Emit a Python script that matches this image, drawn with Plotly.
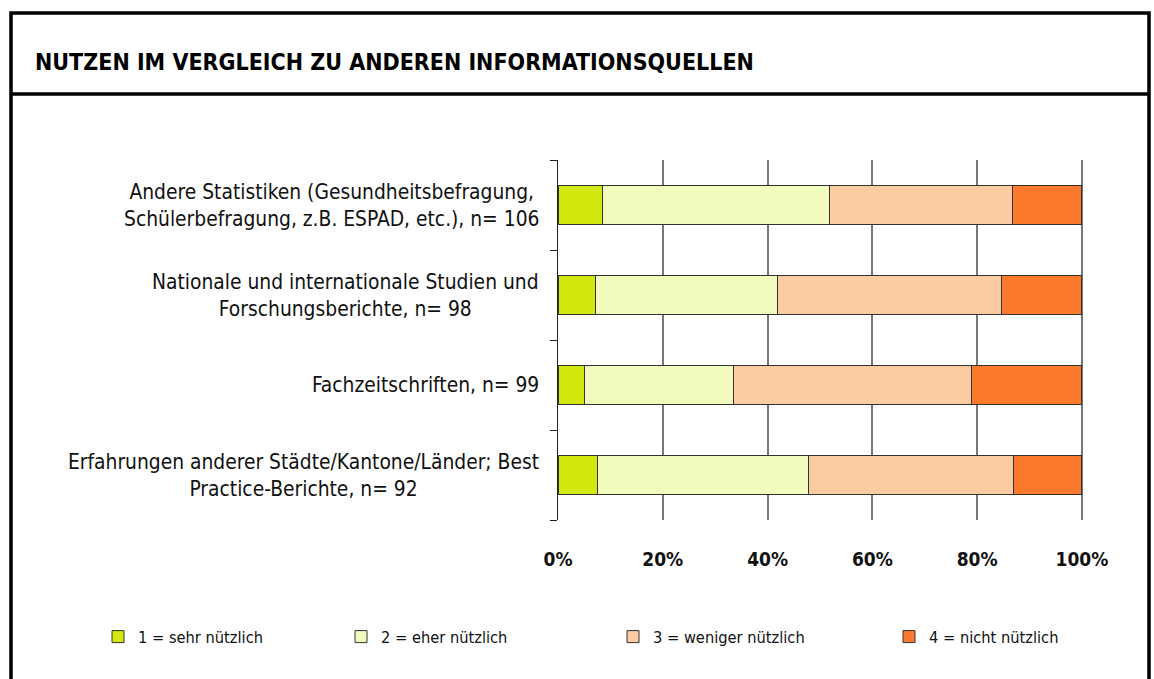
import plotly.graph_objects as go

categories = [
    "Andere Statistiken (Gesundheitsbefragung,<br>Schülerbefragung, z.B. ESPAD, etc.), n= 106",
    "Nationale und internationale Studien und<br>Forschungsberichte, n= 98",
    "Fachzeitschriften, n= 99",
    "Erfahrungen anderer Städte/Kantone/Länder; Best<br>Practice-Berichte, n= 92",
]
series_names = ["1 = sehr nützlich", "2 = eher nützlich", "3 = weniger nützlich", "4 = nicht nützlich"]
sehr = [8.5, 7.1, 5.1, 7.6]
eher = [43.4, 34.7, 28.3, 40.2]
weniger = [34.9, 42.9, 45.5, 39.1]
nicht = [13.2, 15.3, 21.1, 13.1]
colors = ["#D2E80E", "#F1FBBB", "#FDCBA1", "#FC7A2B"]
tick_vals = [0, 20, 40, 60, 80, 100]
tick_text = ["0%", "20%", "40%", "60%", "80%", "100%"]

FONT = "DejaVu Sans Condensed, Liberation Sans Narrow, sans-serif"

W, H = 1154, 679
L, R, T, B = 558, 1083, 160, 520  # plot area pixels
pw, ph = R - L, B - T


def px_x(p):
    return (p - L) / pw


def px_y(p):
    return (B - p) / ph


fig = go.Figure()
legend_ids = ["legend", "legend2", "legend3", "legend4"]
for name, vals, col, lg in zip(series_names, [sehr, eher, weniger, nicht], colors, legend_ids):
    fig.add_trace(go.Bar(
        y=categories, x=vals, name=name, orientation="h",
        marker=dict(color=col, line=dict(color="#333333", width=1)),
        legend=lg,
    ))

legend_px = [98, 341, 613, 889]
layout_legends = {}
for lg, lx in zip(legend_ids, legend_px):
    layout_legends[lg] = dict(
        x=px_x(lx), y=px_y(637), xanchor="left", yanchor="middle",
        orientation="h", font=dict(family=FONT, size=16.3, color="#111111"),
        bgcolor="rgba(0,0,0,0)", traceorder="normal",
    )

fig.update_layout(
    width=W, height=H,
    margin=dict(l=L, r=W - R, t=T, b=H - B),
    barmode="stack", bargap=0.57,
    plot_bgcolor="white", paper_bgcolor="white",
    font=dict(family=FONT, size=16, color="#111111"),
    showlegend=True,
    **layout_legends,
)

fig.update_xaxes(
    range=[0, 100.2], tickvals=tick_vals,
    ticktext=["<b>" + t + "</b>" for t in tick_text],
    tickfont=dict(family=FONT, size=19, color="#111111"),
    showgrid=True, gridcolor="#777777", gridwidth=1.5,
    zeroline=False, showline=False, ticks="", ticklabelstandoff=26,
)
fig.update_yaxes(
    categoryorder="array", categoryarray=categories[::-1],
    showticklabels=False, ticks="outside", tickson="boundaries",
    ticklen=7, tickcolor="#222222", tickwidth=1,
    showline=True, linecolor="#222222", linewidth=1.2,
    showgrid=False, zeroline=False,
)

for c in categories:
    fig.add_annotation(
        x=0, xref="paper", y=c, yref="y", text=c, showarrow=False,
        xanchor="right", yanchor="middle", align="center", xshift=-17,
        font=dict(family=FONT, size=20.8, color="#111111"),
    )

fig.add_annotation(
    x=px_x(33), xref="paper", y=px_y(62), yref="paper",
    text="<b>NUTZEN IM VERGLEICH ZU ANDEREN INFORMATIONSQUELLEN</b>",
    showarrow=False, xanchor="left", yanchor="middle",
    font=dict(family=FONT, size=23, color="#000000"),
)

# frame
fig.add_shape(type="rect", xref="paper", yref="paper",
              x0=px_x(11), x1=px_x(1149), y0=px_y(700), y1=px_y(13),
              line=dict(color="black", width=3.5), layer="above")
fig.add_shape(type="line", xref="paper", yref="paper",
              x0=px_x(11), x1=px_x(1149), y0=px_y(94), y1=px_y(94),
              line=dict(color="black", width=3.5), layer="above")

fig.write_html("out.html", config={"displayModeBar": False},
               post_script="document.body.style.margin='0';document.body.style.overflow='hidden';")
